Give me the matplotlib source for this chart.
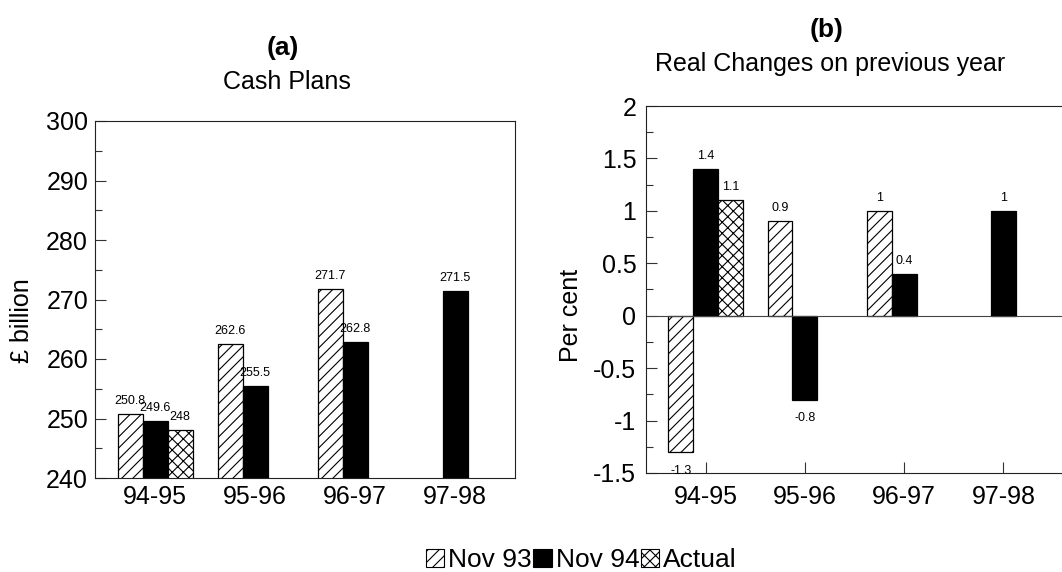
import numpy as np
import matplotlib.pyplot as plt
from matplotlib.patches import Patch
from matplotlib.ticker import MultipleLocator

plt.rcParams['font.family'] = ['Liberation Sans', 'DejaVu Sans']
plt.rcParams['hatch.linewidth'] = 0.8

years = ['94-95', '95-96', '96-97', '97-98']
series_names = ['Nov 93', 'Nov 94', 'Actual']

# cash plans, £ billion
cash_nov93 = [250.8, 262.6, 271.7, np.nan]
cash_nov94 = [249.6, 255.5, 262.8, 271.5]
cash_actual = [248, np.nan, np.nan, np.nan]

# real changes on previous year, per cent
real_nov93 = [-1.3, 0.9, 1, np.nan]
real_nov94 = [1.4, -0.8, 0.4, 1]
real_actual = [1.1, np.nan, np.nan, np.nan]

styles = [dict(facecolor='white', hatch='///'),
          dict(facecolor='black'),
          dict(facecolor='white', hatch='xxx')]

W, H = 1062, 572
fig = plt.figure(figsize=(W / 100, H / 100), dpi=100)


def px_axes(left, top, right, bottom):
    return fig.add_axes([left / W, 1 - bottom / H, (right - left) / W, (bottom - top) / H])


def draw_bars(ax, series, fmt_off=(5, -9)):
    x = np.arange(len(years))
    w = 0.25
    for i, (vals, st) in enumerate(zip(series, styles)):
        xs = x + (i - 1) * w
        ax.bar(xs, vals, width=w, edgecolor='black', linewidth=0.9, **st)
        for xi, v in zip(xs, vals):
            if np.isnan(v):
                continue
            up = v >= 0
            ax.annotate(f'{v:g}', (xi, v), xytext=(0, fmt_off[0] if up else fmt_off[1]),
                        textcoords='offset points', ha='center',
                        va='bottom' if up else 'top', fontsize=9)
    ax.set_xticks(x)
    ax.set_xticklabels(years)
    ax.set_xlim(-0.6, 3.6)
    ax.set_axisbelow(True)
    for s in ax.spines.values():
        s.set_linewidth(0.8)
        s.set_color('#222222')
    ax.tick_params(which='both', direction='in', labelsize=18, color='#333333')
    ax.tick_params(which='major', length=8, width=0.8)
    ax.tick_params(which='minor', length=5, width=0.8)
    ax.tick_params(axis='x', which='minor', bottom=False)


# (a) cash plans
ax1 = px_axes(95, 121, 515, 478)
draw_bars(ax1, [cash_nov93, cash_nov94, cash_actual])
ax1.set_ylim(240, 300)
ax1.yaxis.set_major_locator(MultipleLocator(10))
ax1.yaxis.set_minor_locator(MultipleLocator(5))
ax1.tick_params(axis='y', pad=5)
ax1.tick_params(axis='x', pad=5)

# (b) real changes
ax2 = px_axes(646, 106, 1063, 473)
draw_bars(ax2, [real_nov93, real_nov94, real_actual])
ax2.set_ylim(-1.5, 2)
ax2.yaxis.set_major_locator(MultipleLocator(0.5))
ax2.yaxis.set_minor_locator(MultipleLocator(0.25))
ax2.yaxis.set_major_formatter(lambda v, pos: f'{v:g}')
ax2.axhline(0, color='#444444', linewidth=0.8, zorder=1)
ax2.tick_params(axis='y', pad=7)
ax2.tick_params(axis='x', pad=9)

# panel headings and axis titles
fig.text(283 / W, 1 - 55 / H, '(a)', ha='center', va='baseline', fontsize=19, fontweight='bold')
fig.text(287 / W, 1 - 89 / H, 'Cash Plans', ha='center', va='baseline', fontsize=18)
fig.text(827 / W, 1 - 37 / H, '(b)', ha='center', va='baseline', fontsize=19, fontweight='bold')
fig.text(830 / W, 1 - 71 / H, 'Real Changes on previous year', ha='center', va='baseline', fontsize=18)
fig.text(22 / W, 1 - 321 / H, '£ billion', rotation=90, ha='center', va='center', fontsize=18)
fig.text(571 / W, 1 - 315 / H, 'Per cent', rotation=90, ha='center', va='center', fontsize=18)

handles = [Patch(edgecolor='black', linewidth=0.8, **st) for st in styles]
fig.legend(handles, series_names, loc='center left', bbox_to_anchor=(426 / W, 1 - 560 / H),
           ncol=3, frameon=False, fontsize=19, handlelength=0.7, handleheight=0.7,
           handletextpad=0.15, columnspacing=0.05, borderpad=0, borderaxespad=0)

fig.savefig('out.png', dpi=100)
